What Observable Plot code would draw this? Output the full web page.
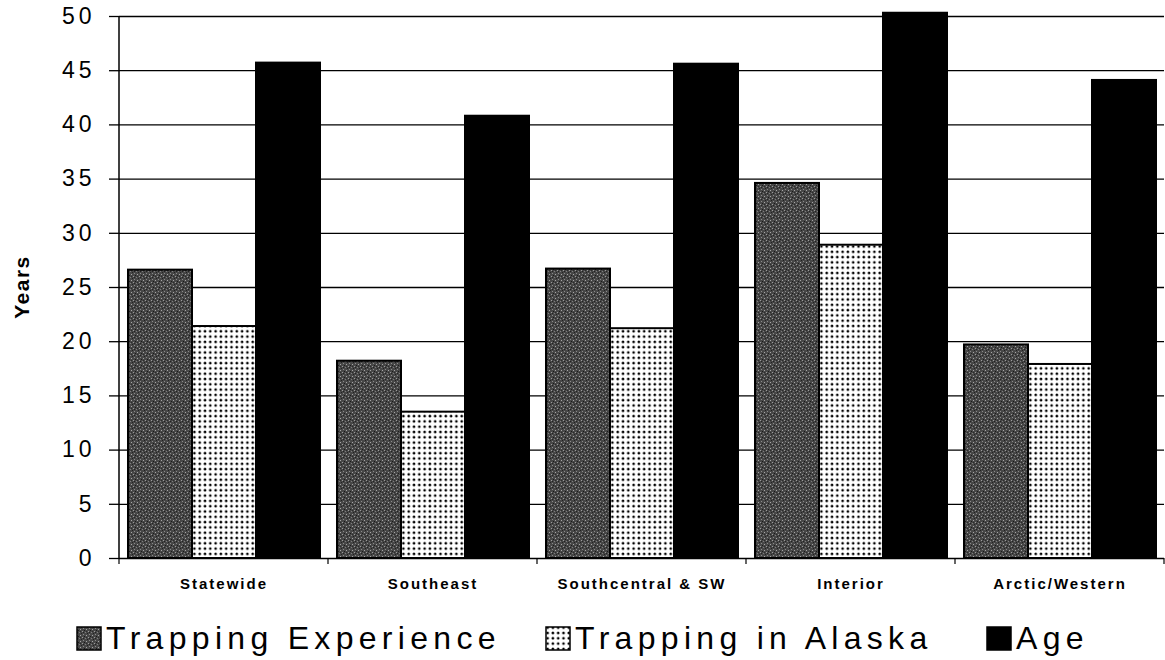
<!DOCTYPE html>
<html>
<head>
<meta charset="utf-8">
<script src="https://cdn.jsdelivr.net/npm/d3@7"></script>
<script src="https://cdn.jsdelivr.net/npm/@observablehq/plot@0.6"></script>
<style>
  html, body { margin: 0; padding: 0; background: white; }
  #chart { position: relative; width: 1165px; }
  #legend { position: relative; width: 1165px; height: 60px; font-family: "Liberation Sans", Arial, sans-serif; }
  .item { position: absolute; top: 22px; display: flex; align-items: center; font-size: 32px; letter-spacing: 5.3px; line-height: 32px; color: black; white-space: nowrap; }
  .item svg { margin-right: 3px; }
</style>
</head>
<body>
<div id="chart"></div>
<div id="legend"></div>
<script>
const categories = ["Statewide", "Southeast", "Southcentral & SW", "Interior", "Arctic/Western"];
const seriesNames = ["Trapping Experience", "Trapping in Alaska", "Age"];
const trappingExperience = [26.6, 18.2, 26.7, 34.6, 19.7];
const trappingInAlaska = [21.4, 13.5, 21.2, 28.9, 17.9];
const age = [45.7, 40.8, 45.6, 50.3, 44.1];
const yTicks = [0, 5, 10, 15, 20, 25, 30, 35, 40, 45, 50];

const seriesValues = [trappingExperience, trappingInAlaska, age];
const fills = {
  "Trapping Experience": "url(#patTE)",
  "Trapping in Alaska": "url(#patTIA)",
  "Age": "black"
};
const rows = [];
categories.forEach((c, i) => {
  seriesNames.forEach((s, j) => rows.push({cat: c, series: s, value: seriesValues[j][i]}));
});

const plot = Plot.plot({
  width: 1165,
  height: 600,
  marginLeft: 118,
  marginRight: 0,
  marginTop: 16,
  marginBottom: 42,
  style: {fontFamily: "'Liberation Sans', Arial, sans-serif", color: "black", background: "white", overflow: "visible"},
  fx: {domain: categories, padding: 0, axis: "bottom", tickSize: 0, tickPadding: 20, label: null},
  x: {domain: seriesNames, paddingInner: 0, paddingOuter: 0.13, align: 0.55, axis: null},
  y: {domain: [0, 50], ticks: yTicks, tickSize: 10, tickPadding: 14, label: null},
  color: {type: "identity"},
  marks: [
    Plot.ruleY(yTicks, {stroke: "black", strokeWidth: 1.3}),
    Plot.barY(rows, {fx: "cat", x: "series", y: "value", fill: d => fills[d.series], stroke: "black", strokeWidth: 2})
  ]
});

document.getElementById("chart").appendChild(plot);

const svg = d3.select(plot);
const defs = svg.insert("defs", ":first-child");
// dark stipple pattern
const pTE = defs.append("pattern").attr("id", "patTE").attr("patternUnits", "userSpaceOnUse").attr("width", 6).attr("height", 6);
pTE.append("rect").attr("width", 6).attr("height", 6).attr("fill", "#474747");
[[0,0,"#9a9a9a"],[3,1,"#7d7d7d"],[1,3,"#8a8a8a"],[4,4,"#a5a5a5"],[2,5,"#1a1a1a"],[5,2,"#222"],[1,1,"#222"],[4,0,"#2a2a2a"]].forEach(([x, y, c]) =>
  pTE.append("rect").attr("x", x).attr("y", y).attr("width", 1).attr("height", 1).attr("fill", c));
// dotted pattern
const pTIA = defs.append("pattern").attr("id", "patTIA").attr("patternUnits", "userSpaceOnUse").attr("width", 5.3).attr("height", 5.3);
pTIA.append("rect").attr("width", 5.3).attr("height", 5.3).attr("fill", "white");
pTIA.append("circle").attr("cx", 2.6).attr("cy", 2.6).attr("r", 1.35).attr("fill", "black");

// axis styling
svg.selectAll("[aria-label='y-axis tick label'] text").style("font-size", "23px").style("letter-spacing", "4px");
svg.selectAll("[aria-label='fx-axis tick label'] text").style("font-size", "15px").style("font-weight", "bold").style("letter-spacing", "2px");
svg.selectAll("[aria-label='y-axis tick'] path").attr("stroke-width", 1.3);

const fx = plot.scale("fx");
const y = plot.scale("y");
const x0 = fx.apply(categories[0]);
const yBottom = y.apply(0), yTop = y.apply(50);
svg.append("line").attr("x1", x0).attr("x2", x0).attr("y1", yTop).attr("y2", yBottom).attr("stroke", "black").attr("stroke-width", 1.5);
const bounds = categories.map(c => fx.apply(c)).concat([fx.apply(categories[categories.length - 1]) + fx.bandwidth]);
bounds.forEach(b => svg.append("line").attr("x1", b).attr("x2", b).attr("y1", yBottom).attr("y2", yBottom + 6).attr("stroke", "black").attr("stroke-width", 1.2));
svg.append("text").text("Years")
  .attr("transform", `translate(29,${(yTop + yBottom) / 2}) rotate(-90)`)
  .attr("text-anchor", "middle")
  .style("font-size", "21px").style("font-weight", "bold").style("letter-spacing", "1.5px")
  .style("font-family", "'Liberation Sans', Arial, sans-serif");

// legend
const legendLeft = [76, 545, 986];
const legend = d3.select("#legend");
seriesNames.forEach((s, i) => {
  const item = legend.append("div").attr("class", "item").style("left", legendLeft[i] + "px");
  const sw = item.append("svg").attr("width", 27).attr("height", 26);
  sw.append("rect").attr("x", 1).attr("y", 2).attr("width", 24).attr("height", 23).attr("fill", fills[s]).attr("stroke", "black").attr("stroke-width", 1.5);
  item.append("span").text(s);
});
</script>
</body>
</html>
